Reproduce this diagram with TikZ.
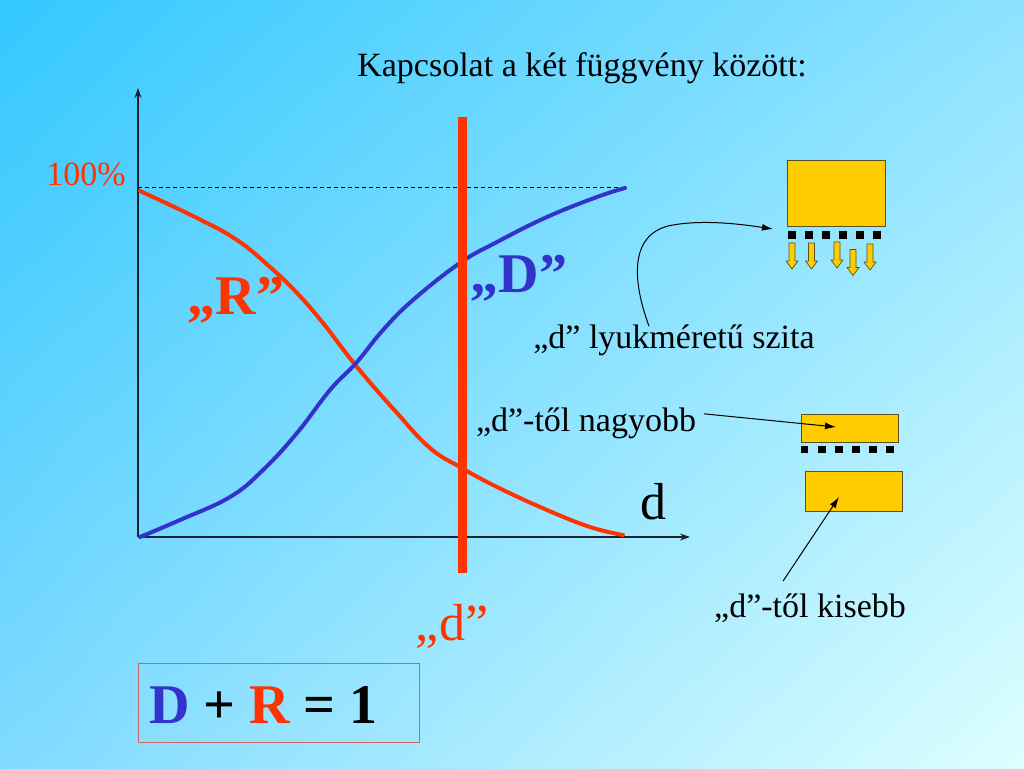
\documentclass[tikz,border=0pt]{standalone}
\usepackage{fontspec}
\setmainfont{Liberation Serif}
\usetikzlibrary{arrows.meta,shadings}
\definecolor{redR}{HTML}{FF3300}
\definecolor{blueD}{HTML}{3333CC}
\definecolor{yel}{HTML}{FFCC00}
\definecolor{yedge}{HTML}{5A5020}
\definecolor{axc}{HTML}{1A2233}
\definecolor{boxc}{HTML}{CC6666}
\definecolor{bgA}{HTML}{33C8FF}
\definecolor{bgB}{HTML}{8EE2FF}
\definecolor{bgC}{HTML}{80DAFF}
\definecolor{bgD}{HTML}{DDFFFF}
\tikzset{
  txt/.style={inner sep=0pt, anchor=base, font=\fontsize{34}{40}\selectfont},
  bigtxt/.style={inner sep=0pt, anchor=base, font=\fontsize{56}{62}\selectfont\bfseries},
  dtxt/.style={inner sep=0pt, anchor=base, font=\fontsize{52}{58}\selectfont},
  curve/.style={line width=4pt, line cap=round, line join=round},
  axisline/.style={line width=1.2pt, draw=axc, -{Stealth[length=10pt,width=7pt]}},
  sievebox/.style={draw=yedge, line width=0.8pt, fill=yel, inner sep=0pt},
  hole/.style={fill=black, draw=none},
  blockarrow/.style={fill=yel, draw=yedge, line width=0.7pt, line join=miter},
  pointer/.style={line width=1pt, draw=black, -{Latex[length=11pt,width=7pt]}},
}
\begin{document}
\begin{tikzpicture}[x=1pt,y=-1pt]
\useasboundingbox (0,0) rectangle (1024,768);
\shade[upper left=bgA, upper right=bgB, lower left=bgC, lower right=bgD] (0,0) rectangle (1024,768);

% title
\node[txt] (title) at (582,76) {Kapcsolat a két függvény között:};

% axes
\coordinate (O) at (138,537);
\coordinate (ytop) at (138,88);
\coordinate (xend) at (690,537);
\draw[axisline] (O) -- (ytop);
\draw[axisline] (O) -- (xend);

% 100% line
\coordinate (h0) at (138,187);
\coordinate (h1) at (625,187);
\draw[line width=0.8pt, dash pattern=on 4pt off 3pt] (h0) -- (h1);
\node[txt, text=redR] (hundred) at (86,185) {100\%};

% curves
\draw[curve, draw=redR] plot[smooth, tension=0.7] coordinates {
 (140,191) (197,218) (237,240) (270,267) (297,293) (323,323)
 (357,367) (397,413) (430,448) (460,467) (497,487)
 (547,510) (590,527) (623,535)};
\draw[curve, draw=blueD] plot[smooth, tension=0.7] coordinates {
 (140,537) (180,520) (230,497) (263,470) (297,433) (330,390) (357,362)
 (383,330) (413,300) (460,263) (497,242) (547,217) (597,197) (625,188)};

% vertical d line
\coordinate (v0) at (462,117);
\coordinate (v1) at (462,573);
\draw[line width=9pt, draw=redR] (v0) -- (v1);

% labels
\node[bigtxt, text=redR] (R) at (236,314) {„R”};
\node[bigtxt, text=blueD] (D) at (519,292) {„D”};
\node[dtxt] (dax) at (653,519) {d};
\node[dtxt, text=redR] (dred) at (452,640) {„d”};

% sieve 1
\node[sievebox, minimum width=98pt, minimum height=66pt] (s1) at (836,193.5) {};
\foreach \i in {0,...,5} {
  \fill[hole] (788+17*\i,231) rectangle ++(8,8.3);
}
\foreach \cx/\ty in {792/243, 811.5/243, 837/242, 853/249.5, 870/244} {
  \draw[blockarrow] (\cx-3,\ty) -- (\cx+3,\ty) -- (\cx+3,\ty+18) -- (\cx+6,\ty+18)
    -- (\cx,\ty+26) -- (\cx-6,\ty+18) -- (\cx-3,\ty+18) -- cycle;
}

% sieve 2
\node[sievebox, minimum width=97pt, minimum height=28pt] (s2a) at (850.3,428.3) {};
\foreach \i in {0,...,5} {
  \fill[hole] (800.7+17.1*\i,445.7) rectangle ++(7.7,7.7);
}
\node[sievebox, minimum width=97pt, minimum height=40pt] (s2b) at (853.8,491.7) {};

% texts on right
\node[txt] (szita) at (674,348) {„d” lyukméretű szita};
\node[txt] (nagy) at (586,431) {„d”-től nagyobb};
\node[txt] (kis) at (810,617) {„d”-től kisebb};

% pointers
\coordinate (p1) at (773,229);
\coordinate (p2) at (836,427);
\coordinate (p3) at (839,497);
\draw[pointer] ([xshift=-25pt,yshift=-2pt]szita.north) .. controls (632,280) and (630,236) .. (668,226)
   .. controls (700,219) and (740,224) .. (p1);
\draw[pointer] ([xshift=8pt,yshift=9pt]nagy.east) -- (p2);
\draw[pointer] ([xshift=-27pt,yshift=12pt]kis.north) -- (p3);

% equation box
\node[draw=boxc, line width=0.8pt, minimum width=281pt, minimum height=79pt, inner sep=0pt] (eqbox) at (278.8,703.3) {};
\node[inner sep=0pt, anchor=base west, font=\fontsize{56}{62}\selectfont\bfseries] (eq) at (149,723)
  {\textcolor{blueD}{D} + \textcolor{redR}{R} = 1};
\end{tikzpicture}
\end{document}
